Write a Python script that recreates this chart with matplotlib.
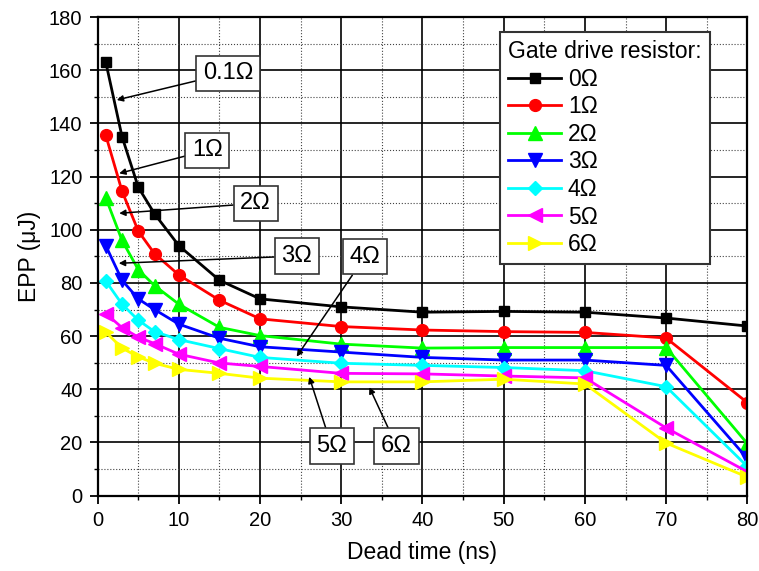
import numpy as np
import matplotlib.pyplot as plt
from matplotlib.ticker import MultipleLocator

plt.rcParams['font.family'] = ['Liberation Sans', 'DejaVu Sans']

# Dead time (ns)
dead_time = [1, 3, 5, 7, 10, 15, 20, 30, 40, 50, 60, 70, 80]

# EPP (uJ) for each gate drive resistor
epp_0 = [163, 135, 116, 106, 94, 81, 74, 71, 69, 69.3, 69, 66.8, 63.8]
epp_1 = [135.5, 114.5, 99.5, 91, 83, 73.5, 66.5, 63.6, 62.3, 61.7, 61.4, 59.3, 35]
epp_2 = [112, 96, 85, 79, 72, 63.3, 60.2, 57, 55.5, 55.7, 55.7, 55.7, 19.6]
epp_3 = [94, 81, 74, 70, 64.5, 59.2, 56, 54, 52, 51, 51, 49, 14]
epp_4 = [80.7, 72, 66, 61.7, 58.7, 55.3, 52, 49.8, 49, 48.2, 47, 41, 11]
epp_5 = [68.5, 63.2, 59.6, 57.2, 53.2, 49.9, 48.6, 46, 45.8, 45, 44.3, 25.5, 9]
epp_6 = [61.5, 55.5, 52.2, 49.8, 47.5, 46, 44.2, 42.8, 42.8, 43.8, 42, 19.8, 7]

series = [epp_0, epp_1, epp_2, epp_3, epp_4, epp_5, epp_6]
names = ['0Ω', '1Ω', '2Ω', '3Ω', '4Ω', '5Ω', '6Ω']
colors = ['black', 'red', '#00ff00', 'blue', 'cyan', 'magenta', 'yellow']
markers = ['s', 'o', '^', 'v', 'D', '<', '>']
msizes = [7.5, 8.5, 9.5, 9.5, 7.5, 9.5, 9.5]

# Annotation labels: text, text position, arrow tip
ann_labels = ['0.1Ω', '1Ω', '2Ω', '3Ω', '4Ω', '5Ω', '6Ω']
ann_text_xy = [(16.05, 158.9), (13.5, 129.9), (19.45, 109.9), (24.5, 90.1),
               (32.9, 89.8), (28.8, 18.7), (36.8, 18.7)]
ann_tip_xy = [(2.35, 148.8), (2.65, 121.2), (2.65, 106.2), (2.6, 87.4),
              (24.5, 52.3), (26.05, 44.7), (33.45, 40.8)]

fig = plt.figure(figsize=(7.59, 5.71), dpi=100)
ax = fig.add_axes([0.1287, 0.1319, 0.8559, 0.8383])

for y, name, c, m, ms in zip(series, names, colors, markers, msizes):
    ax.plot(dead_time, y, color=c, marker=m, markersize=ms, linewidth=2, label=name)

ax.set_xlim(0, 80)
ax.set_ylim(0, 180)
ax.xaxis.set_major_locator(MultipleLocator(10))
ax.xaxis.set_minor_locator(MultipleLocator(5))
ax.yaxis.set_major_locator(MultipleLocator(20))
ax.yaxis.set_minor_locator(MultipleLocator(10))
ax.grid(which='major', color='black', linestyle='-', linewidth=1.2)
ax.grid(which='minor', color='#444444', linestyle=':', linewidth=0.8)
ax.set_axisbelow(True)
ax.tick_params(which='major', direction='out', length=6, width=1.3, labelsize=14.5, pad=5)
ax.tick_params(which='minor', direction='out', length=3, width=1)
for s in ax.spines.values():
    s.set_linewidth(1.6)

ax.set_xlabel('Dead time (ns)', fontsize=16.5, labelpad=8)
ax.set_ylabel('EPP (μJ)', fontsize=16.5, labelpad=6)

for lab, txy, tip in zip(ann_labels, ann_text_xy, ann_tip_xy):
    ax.annotate(lab, xy=tip, xytext=txy, fontsize=17, ha='center', va='center',
                bbox=dict(boxstyle='square,pad=0.28', fc='white', ec='#333333', lw=1.2),
                arrowprops=dict(arrowstyle='-|>', color='black', lw=1.1, mutation_scale=9,
                                shrinkA=0, shrinkB=0))

leg = ax.legend(title='Gate drive resistor:', loc='upper right', bbox_to_anchor=(0.9426, 0.9687),
                fontsize=16.5, title_fontsize=16.5, fancybox=False, framealpha=1,
                edgecolor='#333333', handlelength=2.3, handletextpad=0.3,
                labelspacing=0.2, borderpad=0.35, borderaxespad=0)
leg.get_frame().set_linewidth(1.5)
leg._legend_box.align = 'left'

fig.savefig('out.png', dpi=100)
